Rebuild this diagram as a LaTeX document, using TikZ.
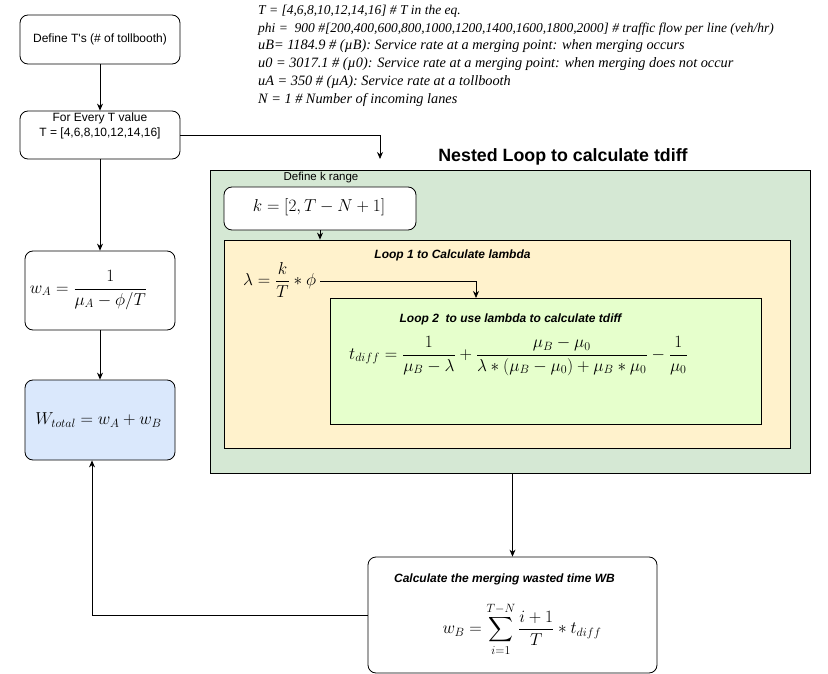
\documentclass[tikz,border=0pt]{standalone}
\usepackage{amsmath}
\usepackage[no-math]{fontspec}
\newfontfamily\myarial{Liberation Sans}
\newfontfamily\mytimes{Liberation Serif}
\usetikzlibrary{arrows.meta,calc}
\definecolor{cgreen}{HTML}{D5E8D4}
\definecolor{cyellow}{HTML}{FFF2CC}
\definecolor{clime}{HTML}{E6FFCC}
\definecolor{cblue}{HTML}{DAE8FC}
\newcommand{\fs}[1]{\fontsize{#1}{#1}\selectfont}
\tikzset{
  rbox/.style={draw, rounded corners=8pt, line width=0.8pt, inner sep=0pt, fill=white},
  sbox/.style={draw, line width=0.8pt, inner sep=0pt},
  arr/.style={-{Stealth[length=7pt,width=6pt]}, line width=0.8pt},
  lbl/.style={inner sep=0pt, font=\myarial\fs{12}, align=center},
  bilbl/.style={inner sep=0pt, font=\myarial\bfseries\itshape\fs{12}},
  mth/.style={inner sep=0pt},
  notea/.style={anchor=base west, inner sep=0pt, font=\mytimes\itshape\fs{13.5}},
  noteb/.style={anchor=base west, inner sep=0pt, font=\mytimes\itshape\fs{14.3}}
}
\begin{document}
\begin{tikzpicture}[x=1pt,y=-1pt]
\useasboundingbox (0,0) rectangle (828,674);
% top note
\node[notea] (n1) at (258,14.5) {T = [4,6,8,10,12,14,16] \# T in the eq.};
\node[notea] (n2) at (258,32.3) {phi =\ \ 900 \#[200,400,600,800,1000,1200,1400,1600,1800,2000] \# traffic flow per line (veh/hr)};
\node[noteb] (n3) at (258,50) {uB= 1184.9 \# (µB): Service rate at a merging point: when merging occurs};
\node[noteb] (n4) at (258,67.8) {u0 = 3017.1 \# (µ0): Service rate at a merging point: when merging does not occur};
\node[noteb] (n5) at (258,85.6) {uA = 350 \# (µA): Service rate at a tollbooth};
\node[noteb] (n6) at (258,103.4) {N = 1 \# Number of incoming lanes};
% left column
\node[rbox, minimum width=160pt, minimum height=49pt, font=\myarial\fs{12}] (b1) at (100,39.5) {Define T's (\# of tollbooth)};
\node[rbox, minimum width=160pt, minimum height=48pt] (b2) at (100,135) {};
\node[lbl, font=\myarial\fontsize{12}{15}\selectfont] (b2t) at (100,125.5) {For Every T value\\T = [4,6,8,10,12,14,16]};
\node[rbox, minimum width=150pt, minimum height=79pt] (wa) at (100,290.5) {};
\node[mth] (waf) at (88.5,290) {\fs{16.9}$w_A=\dfrac{1}{\mu_A-\phi/T}$};
\node[rbox, fill=cblue, minimum width=150pt, minimum height=80pt] (wt) at (100,420) {};
\node[mth] (wtf) at (98.5,420) {\fs{18.6}$W_{total}=w_A+w_B$};
% nested loop
\node[inner sep=0pt, font=\myarial\bfseries\fs{17.8}] (title) at (563,157) {Nested Loop to calculate tdiff};
\node[sbox, fill=cgreen, minimum width=600pt, minimum height=303pt] (green) at (510,321.5) {};
\node[lbl, font=\myarial\fs{11.5}] (klbl) at (321,178) {Define k range};
\node[rbox, minimum width=192pt, minimum height=43pt] (kbox) at (320,208.5) {};
\node[mth] (kf) at (319,207.5) {\fs{16.1}$k=[2,T-N+1]$};
\node[sbox, fill=cyellow, minimum width=566pt, minimum height=208pt] (yellow) at (507,344) {};
\node[bilbl] (l1) at (452.5,255.5) {Loop 1 to Calculate lambda};
\node[mth, anchor=west] (lam) at (243,280) {\fs{17}$\lambda=\dfrac{k}{T}*\phi$};
\node[sbox, fill=clime, minimum width=431pt, minimum height=126pt] (lime) at (545.5,361) {};
\node[bilbl] (l2) at (510.5,319) {Loop 2\ \ to use lambda to calculate tdiff};
\node[mth] (tf) at (518.5,356) {\fs{16.4}$t_{diff}=\dfrac{1}{\mu_B-\lambda}+\dfrac{\mu_B-\mu_0}{\lambda*(\mu_B-\mu_0)+\mu_B*\mu_0}-\dfrac{1}{\mu_0}$};
% WB
\node[rbox, minimum width=289pt, minimum height=116pt] (wb) at (512.5,615) {};
\node[bilbl] (wbt) at (504.5,579) {Calculate the merging wasted time WB};
\node[mth] (wbf) at (522,629) {\fs{18.8}$w_B=\displaystyle\sum_{i=1}^{T-N}\frac{i+1}{T}*t_{diff}$};
% coordinates
\coordinate (ttgt) at (380,159);
\coordinate (lamtgt) at (476,298);
% connectors
\draw[arr] (b1) -- (b2);
\draw[arr] (b2) -- (wa);
\draw[arr] (wa) -- (wt);
\draw[arr] (b2.east) -| (ttgt);
\draw[arr] (kbox.south) -- (kbox.south |- yellow.north);
\draw[arr] ($(lam.east)+(4,1)$) -| (lamtgt);
\draw[arr] (green.south -| wb.north) -- (wb.north);
\draw[arr] (wb.west) -| ($(wt.south west)!0.447!(wt.south east)$);
\end{tikzpicture}
\end{document}
